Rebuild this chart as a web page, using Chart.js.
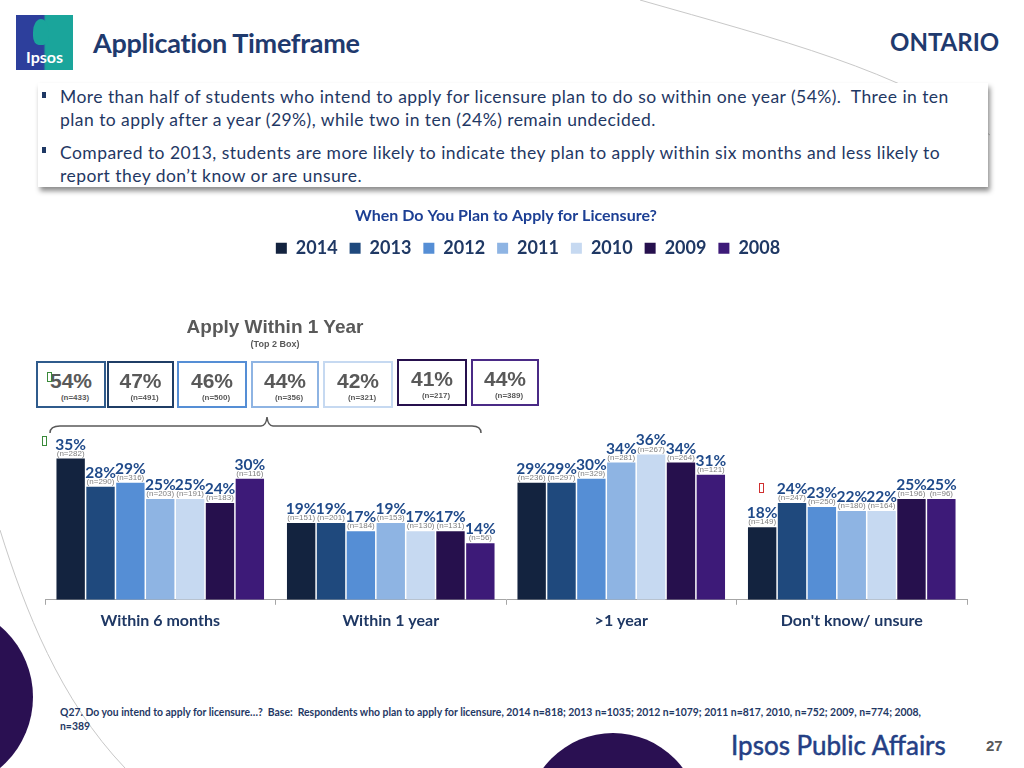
<!DOCTYPE html>
<html>
<head>
<meta charset="utf-8">
<script src="https://cdn.jsdelivr.net/npm/chart.js@4.4.1/dist/chart.umd.min.js"></script>
<style>
  html,body{margin:0;padding:0;background:#fff;}
  body{width:1024px;height:768px;position:relative;overflow:hidden;font-family:Lato, "Open Sans", sans-serif;}
  .abs{position:absolute;}
  #chartWrap{position:absolute;left:0;top:196px;width:1024px;height:450px;}
  #title{left:93px;top:26px;font:bold 27px Lato;color:#1f3a6e;letter-spacing:-0.3px;}
  #ontario{left:890px;top:27px;font:bold 24px Lato;color:#1f3a6e;}
  #bullets{left:38px;top:83px;width:950px;height:104px;background:#fff;box-shadow:2px 4px 5px rgba(0,0,0,0.45);}
  .bl{position:absolute;left:22px;font:17.5px Lato;color:#1f3864;line-height:23px;white-space:nowrap;letter-spacing:0.45px;}
  .sq{position:absolute;left:4px;width:4px;height:6px;background:#1f3864;}
  .box{position:absolute;box-sizing:border-box;border:2px solid;background:#fff;}
  .box .p{position:absolute;left:0;right:0;top:6px;text-align:center;font:bold 21px "Liberation Sans",Arial;color:#595959;}
  .box .n{position:absolute;left:8px;right:0;top:30px;text-align:center;font:bold 8px "Liberation Sans",Arial;color:#595959;}
  .tofu{position:absolute;width:5px;height:10px;border:1px solid;box-sizing:border-box;}
</style>
</head>
<body>
<script>
// ===== DATA =====
const categories = ["Within 6 months", "Within 1 year", ">1 year", "Don't know/ unsure"];
const years = ["2014", "2013", "2012", "2011", "2010", "2009", "2008"];
const v2014 = [35, 19, 29, 18];
const v2013 = [28, 19, 29, 24];
const v2012 = [29, 17, 30, 23];
const v2011 = [25, 19, 34, 22];
const v2010 = [25, 17, 36, 22];
const v2009 = [24, 17, 34, 25];
const v2008 = [30, 14, 31, 25];
const n2014 = [282, 151, 236, 149];
const n2013 = [290, 201, 297, 247];
const n2012 = [316, 184, 329, 250];
const n2011 = [203, 153, 281, 180];
const n2010 = [191, 130, 267, 164];
const n2009 = [183, 131, 264, 196];
const n2008 = [116, 56, 121, 96];
const top2Values = [54, 47, 46, 44, 42, 41, 44];
const top2N = [433, 491, 500, 356, 321, 217, 389];
</script>

<!-- decorations -->
<svg class="abs" style="left:0;top:0" width="1024" height="768">
  <path d="M640,0 C780,40 900,70 990,135" stroke="#c8c8c8" stroke-width="1" fill="none"/>
  <path d="M0,530 C25,610 60,700 125,768" stroke="#c8c8c8" stroke-width="1" fill="none"/>
  <circle cx="-60" cy="697" r="93" fill="#2a1052"/>
  <circle cx="613" cy="820" r="87" fill="#2a1052"/>
  <path d="M50,433 Q50,426 60,426 L261,426 Q266,426 267,417 Q268,426 273,426 L472,426 Q481,426 481,433" stroke="#595959" stroke-width="1.5" fill="none"/>
</svg>

<!-- logo -->
<div class="abs" style="left:16px;top:15px;width:57px;height:55px;background:linear-gradient(90deg,#2d3f9c 0%,#2d3f9c 48%,#1aa59b 52%,#1aa59b 100%);"></div>
<div class="abs" style="left:33px;top:19px;width:16px;height:26px;border-radius:50% 50% 35% 35%;background:#1aa59b;"></div>
<div class="abs" style="left:16px;top:47px;width:57px;text-align:center;font:bold 16px Lato;color:#fff;">Ipsos</div>

<div id="title" class="abs">Application Timeframe</div>
<div id="ontario" class="abs">ONTARIO</div>

<div id="bullets" class="abs">
  <div class="sq" style="top:9px"></div>
  <div class="bl" style="top:2px">More than half of students who intend to apply for licensure plan to do so within one year (54%).&nbsp; Three in ten<br>plan to apply after a year (29%), while two in ten (24%) remain undecided.</div>
  <div class="sq" style="top:64px"></div>
  <div class="bl" style="top:58px">Compared to 2013, students are more likely to indicate they plan to apply within six months and less likely to<br>report they don’t know or are unsure.</div>
</div>

<div id="chartWrap"><canvas id="c" width="1024" height="450"></canvas></div>

<div class="abs" style="left:140px;top:316px;width:270px;text-align:center;font:bold 19px 'Liberation Sans',Arial;color:#595959;">Apply Within 1 Year</div>
<div class="abs" style="left:140px;top:339px;width:270px;text-align:center;font:bold 9px 'Liberation Sans',Arial;color:#595959;">(Top 2 Box)</div>
<div id="boxes"></div>

<div class="tofu" style="left:47px;top:372px;border-color:#3a8a3a;"></div>
<div class="tofu" style="left:42px;top:436px;border-color:#3a8a3a;"></div>
<div class="tofu" style="left:759px;top:483px;border-color:#d03030;"></div>

<div class="abs" style="left:60px;top:705px;font:bold 10.4px Lato;color:#1f3864;line-height:14px;white-space:nowrap;">Q27. Do you intend to apply for licensure…?&nbsp; Base:&nbsp; Respondents who plan to apply for licensure, 2014 n=818; 2013 n=1035; 2012 n=1079; 2011 n=817, 2010, n=752; 2009, n=774; 2008,<br>n=389</div>
<div class="abs" style="left:731px;top:729px;font:26px Lato;color:#243f85;-webkit-text-stroke:0.5px #243f85;">Ipsos Public Affairs</div>
<div class="abs" style="left:986px;top:737px;font:bold 15px 'Liberation Sans',Arial;color:#595959;">27</div>

<script>
const colors = ["#13233f", "#1f497d", "#558ed5", "#8eb4e3", "#c6d9f1", "#26104d", "#3d1a78"];
const boxBorders = ["#2f5b8c", "#1f3e66", "#558ed5", "#8eb4e3", "#c6d9f1", "#26104d", "#4a2a86"];
const boxX = [36, 107, 177, 251, 323, 397, 471];
const boxW = [70, 67, 70, 68, 70, 70, 68];
const valueSets = [v2014, v2013, v2012, v2011, v2010, v2009, v2008];
const nSets = [n2014, n2013, n2012, n2011, n2010, n2009, n2008];

const bx = document.getElementById('boxes');
top2Values.forEach((v, i) => {
  const d = document.createElement('div');
  d.className = 'box';
  d.style.left = boxX[i] + 'px';
  d.style.top = (i >= 5 ? 359 : 361) + 'px';
  d.style.width = boxW[i] + 'px';
  d.style.height = '47px';
  d.style.borderColor = boxBorders[i];
  d.innerHTML = '<div class="p">' + v + '%</div><div class="n">(n=' + top2N[i] + ')</div>';
  bx.appendChild(d);
});

const labelPlugin = {
  id: 'barLabels',
  afterLayout(chart) {
    if (chart.legend) { chart.legend.left += 22; chart.legend.right += 22; }
  },
  afterDatasetsDraw(chart) {
    const ctx = chart.ctx;
    ctx.save();
    ctx.textAlign = 'center';
    ctx.textBaseline = 'middle';
    chart.data.datasets.forEach((ds, di) => {
      const meta = chart.getDatasetMeta(di);
      meta.data.forEach((bar, i) => {
        ctx.font = 'bold 15.5px Lato';
        ctx.fillStyle = '#1f4a8a';
        ctx.fillText(ds.data[i] + '%', bar.x, bar.y - 14);
        ctx.font = '8px "Liberation Sans", Arial';
        ctx.fillStyle = '#808080';
        ctx.fillText('(n=' + nSets[di][i] + ')', bar.x, bar.y - 5);
      });
    });
    ctx.restore();
  }
};

new Chart(document.getElementById('c'), {
  type: 'bar',
  data: {
    labels: categories,
    datasets: years.map((y, i) => ({
      label: y,
      data: valueSets[i],
      backgroundColor: colors[i],
      borderWidth: 0,
      categoryPercentage: 0.907,
      barPercentage: 0.95
    }))
  },
  options: {
    responsive: false,
    animation: false,
    layout: { padding: { left: 45, right: 57, top: 4, bottom: 10 } },
    plugins: {
      title: {
        display: true,
        text: 'When Do You Plan to Apply for Licensure?',
        color: '#1c3f94',
        font: { family: 'Lato', size: 16, weight: 'bold' },
        padding: { top: 6, bottom: 2 }
      },
      legend: {
        display: true,
        labels: {
          boxWidth: 11, boxHeight: 11,
          color: '#1f3864',
          font: { family: 'Lato', size: 18, weight: 'bold' },
          padding: 12
        }
      },
      tooltip: { enabled: false }
    },
    scales: {
      x: {
        grid: { display: true, drawOnChartArea: false, drawTicks: true, tickLength: 5, color: '#a6a6a6', offset: true },
        border: { display: true, color: '#a6a6a6' },
        ticks: { color: '#1f3864', font: { family: 'Lato', size: 16, weight: 'bold' }, padding: 6 }
      },
      y: { display: false, min: 0, max: 82.4 }
    }
  },
  plugins: [labelPlugin]
});
</script>
</body>
</html>
